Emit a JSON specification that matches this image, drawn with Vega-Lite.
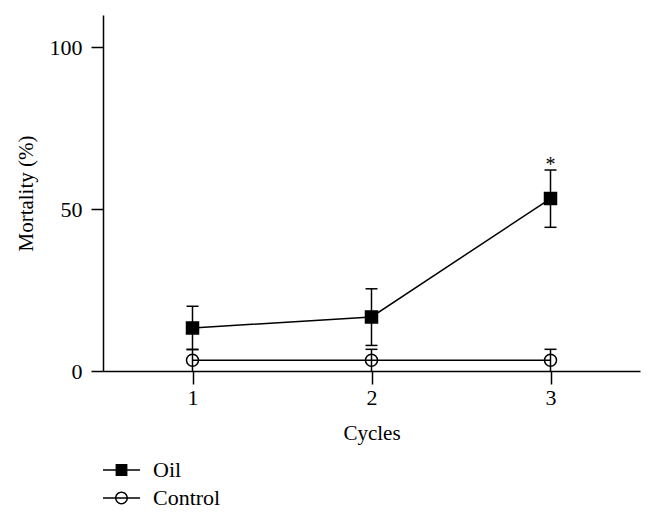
{
  "$schema": "https://vega.github.io/schema/vega-lite/v6.json",
  "width": 537,
  "height": 356,
  "autosize": "none",
  "padding": {"left": 103, "top": 15, "right": 14, "bottom": 150},
  "background": "white",
  "config": {
    "view": {"stroke": null},
    "font": "Liberation Serif",
    "axis": {
      "grid": false,
      "domainColor": "black",
      "domainWidth": 1.5,
      "tickColor": "black",
      "tickWidth": 1.5,
      "labelFont": "Liberation Serif",
      "labelFontSize": 22,
      "labelColor": "black",
      "titleFont": "Liberation Serif",
      "titleFontSize": 21,
      "titleFontWeight": "normal",
      "titleColor": "black"
    },
    "legend": {
      "labelFont": "Liberation Serif",
      "labelFontSize": 22,
      "labelColor": "black"
    }
  },
  "datasets": {
    "main": [
      {"cycle": 1, "series": "Oil", "mean": 13.3, "lo": 6.6, "hi": 20.0, "locap": 6.6},
      {"cycle": 2, "series": "Oil", "mean": 16.7, "lo": 7.9, "hi": 25.4, "locap": 7.9},
      {"cycle": 3, "series": "Oil", "mean": 53.3, "lo": 44.4, "hi": 62.1, "locap": 44.4},
      {"cycle": 1, "series": "Control", "mean": 3.3, "lo": 0, "hi": 6.7, "locap": null},
      {"cycle": 2, "series": "Control", "mean": 3.3, "lo": 0, "hi": 6.7, "locap": null},
      {"cycle": 3, "series": "Control", "mean": 3.3, "lo": 0, "hi": 6.7, "locap": null}
    ],
    "sig": [
      {"cycle": 3, "y": 62.1, "label": "*"}
    ]
  },
  "data": {"name": "main"},
  "resolve": {"scale": {"shape": "independent", "fill": "independent"}},
  "layer": [
    {
      "mark": {"type": "line", "stroke": "black", "strokeWidth": 1.5},
      "encoding": {
        "x": {
          "field": "cycle", "type": "quantitative",
          "scale": {"domain": [0.5, 3.5], "nice": false, "zero": false},
          "axis": {"values": [1, 2, 3], "title": "Cycles", "tickSize": 13, "labelPadding": 3, "titlePadding": 14, "format": "d"}
        },
        "y": {
          "field": "mean", "type": "quantitative",
          "scale": {"domain": [0, 110], "nice": false},
          "axis": {"values": [0, 50, 100], "title": "Mortality (%)", "tickSize": 12, "labelPadding": 9, "titlePadding": 13}
        },
        "detail": {"field": "series"}
      }
    },
    {
      "mark": {"type": "rule", "stroke": "black", "strokeWidth": 1.5},
      "encoding": {
        "x": {"field": "cycle", "type": "quantitative"},
        "y": {"field": "lo", "type": "quantitative"},
        "y2": {"field": "hi"}
      }
    },
    {
      "mark": {"type": "tick", "orient": "horizontal", "size": 12, "thickness": 1.5, "color": "black", "opacity": 1},
      "encoding": {
        "x": {"field": "cycle", "type": "quantitative"},
        "y": {"field": "hi", "type": "quantitative"}
      }
    },
    {
      "mark": {"type": "tick", "orient": "horizontal", "size": 12, "thickness": 1.5, "color": "black", "opacity": 1},
      "encoding": {
        "x": {"field": "cycle", "type": "quantitative"},
        "y": {"field": "locap", "type": "quantitative"}
      }
    },
    {
      "mark": {"type": "point", "stroke": "black", "strokeWidth": 1.5, "opacity": 1, "size": 144},
      "encoding": {
        "x": {"field": "cycle", "type": "quantitative"},
        "y": {"field": "mean", "type": "quantitative"},
        "shape": {
          "field": "series", "type": "nominal",
          "scale": {"domain": ["Oil", "Control"], "range": ["square", "circle"]},
          "legend": null
        },
        "fill": {
          "field": "series", "type": "nominal",
          "scale": {"domain": ["Oil", "Control"], "range": ["black", "transparent"]},
          "legend": null
        }
      }
    },
    {
      "transform": [{"filter": "false"}],
      "mark": {"type": "point", "filled": true, "fill": "black", "strokeWidth": 0, "opacity": 1},
      "encoding": {
        "x": {"field": "cycle", "type": "quantitative"},
        "y": {"field": "mean", "type": "quantitative"},
        "shape": {
          "field": "series", "type": "nominal",
          "scale": {"domain": ["Oil", "Control"], "range": ["M-1,-0.04H1V0.04H-1ZM-0.32,-0.32H0.32V0.32H-0.32Z", "M-1,-0.04H1V0.04H-1ZM0.35,0A0.35,0.35 0 1,1 -0.35,0A0.35,0.35 0 1,1 0.35,0ZM0.27,0A0.27,0.27 0 1,0 -0.27,0A0.27,0.27 0 1,0 0.27,0Z"]},
          "legend": {
            "title": null,
            "orient": "none",
            "legendX": 0,
            "legendY": 442,
            "padding": 0,
            "symbolSize": 1369,
            "symbolFillColor": "black",
            "symbolStrokeWidth": 0,
            "labelOffset": 13,
            "clipHeight": 26,
            "rowPadding": 2
          }
        }
      }
    },
    {
      "data": {"name": "sig"},
      "mark": {"type": "text", "fontSize": 20, "font": "Liberation Serif", "baseline": "alphabetic", "dy": 1, "color": "black"},
      "encoding": {
        "x": {"field": "cycle", "type": "quantitative"},
        "y": {"field": "y", "type": "quantitative"},
        "text": {"field": "label"}
      }
    }
  ]
}
